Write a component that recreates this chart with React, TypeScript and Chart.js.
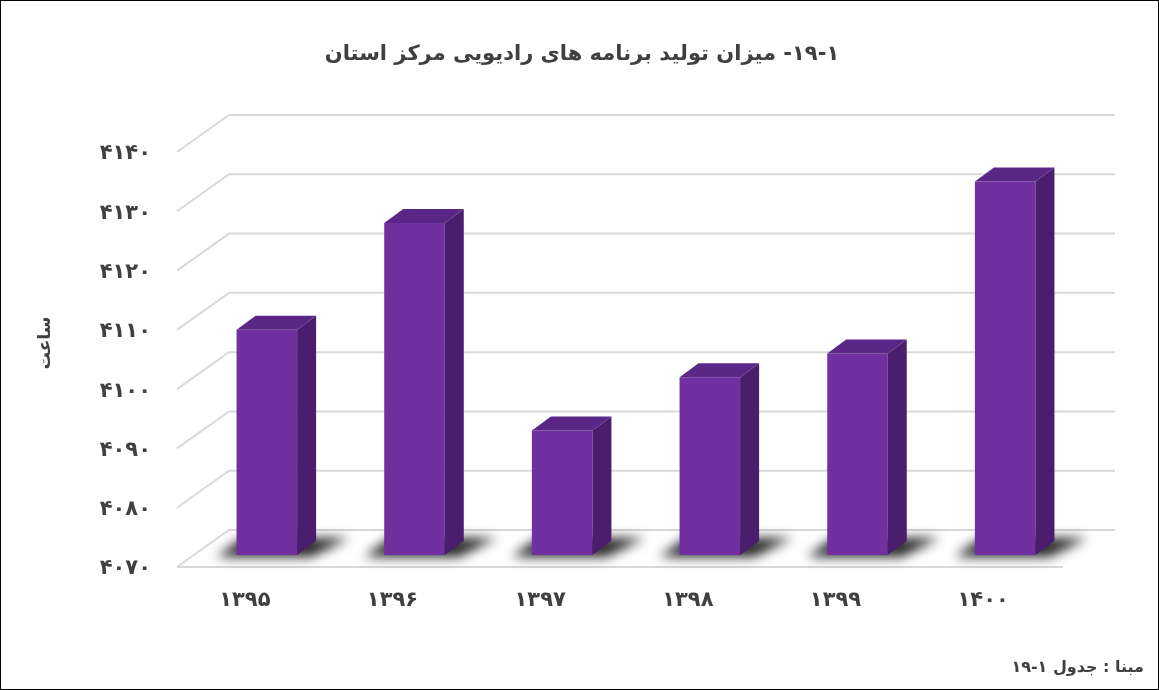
import React, { useEffect, useRef } from 'react';
import { Chart, registerables } from 'chart.js';
Chart.register(...registerables);

const categories = ['1395', '1396', '1397', '1398', '1399', '1400'];
const values = [4108, 4126, 4091, 4100, 4104, 4133];
const yMin = 4070;
const yMax = 4140;
const yStep = 10;
const titleText = '۱۹-۱- میزان تولید برنامه های رادیویی مرکز استان';
const yTitleText = 'ساعت';
const sourceText = 'مبنا : جدول ۱-۱۹';

const fa = (s: string | number) => String(s).replace(/[0-9]/g, (d) => '۰۱۲۳۴۵۶۷۸۹'[+d]);

const FONT = '"DejaVu Sans", sans-serif';
const TEXT = '#404040';
const FRONT = '#7030A0';
const SIDE = '#4B1E6D';
const TOP = '#5B2786';
const GRID = '#D9D9D9';

// 3D geometry
const BAR_DX = 19, BAR_DY = -14;
const WALL_BACK_DX = 36, WALL_BACK_DY = -25;
const WALL_FRONT_DX = -16, WALL_FRONT_DY = 12;

const threeD = {
  id: 'threeD',
  beforeDatasetsDraw(chart: any) {
    const ctx = chart.ctx;
    const { left, right } = chart.chartArea;
    const y = chart.scales.y;
    ctx.save();
    ctx.strokeStyle = GRID;
    ctx.lineWidth = 2;
    for (let v = yMin; v <= yMax; v += yStep) {
      const py = y.getPixelForValue(v);
      ctx.beginPath();
      ctx.moveTo(left + WALL_FRONT_DX, py + WALL_FRONT_DY);
      ctx.lineTo(left + WALL_BACK_DX, py + WALL_BACK_DY);
      ctx.lineTo(right + WALL_BACK_DX, py + WALL_BACK_DY);
      ctx.stroke();
    }
    const pb = y.getPixelForValue(yMin);
    ctx.beginPath();
    ctx.moveTo(left + WALL_FRONT_DX, pb + WALL_FRONT_DY);
    ctx.lineTo(right + WALL_FRONT_DX, pb + WALL_FRONT_DY);
    ctx.stroke();
    // floor shadows behind bars
    const meta = chart.getDatasetMeta(0);
    ctx.filter = 'blur(6px)';
    ctx.fillStyle = 'rgba(25,25,25,0.95)';
    meta.data.forEach((bar: any) => {
      const xl = bar.x - bar.width / 2;
      const xr = bar.x + bar.width / 2;
      const base = pb;
      ctx.beginPath();
      ctx.moveTo(xl - 20, base + 2);
      ctx.lineTo(xr + 14, base + 2);
      ctx.lineTo(xr + 52, base - 17);
      ctx.lineTo(xl + 6, base - 17);
      ctx.closePath();
      ctx.fill();
    });
    ctx.filter = 'none';
    ctx.restore();
  },
  afterDatasetsDraw(chart: any) {
    const ctx = chart.ctx;
    const meta = chart.getDatasetMeta(0);
    const base = chart.scales.y.getPixelForValue(yMin);
    ctx.save();
    meta.data.forEach((bar: any) => {
      const xl = bar.x - bar.width / 2;
      const xr = bar.x + bar.width / 2;
      const top = bar.y;
      ctx.fillStyle = TOP;
      ctx.beginPath();
      ctx.moveTo(xl, top);
      ctx.lineTo(xl + BAR_DX, top + BAR_DY);
      ctx.lineTo(xr + BAR_DX, top + BAR_DY);
      ctx.lineTo(xr, top);
      ctx.closePath();
      ctx.fill();
      ctx.fillStyle = SIDE;
      ctx.beginPath();
      ctx.moveTo(xr, top);
      ctx.lineTo(xr + BAR_DX, top + BAR_DY);
      ctx.lineTo(xr + BAR_DX, base + BAR_DY);
      ctx.lineTo(xr, base);
      ctx.closePath();
      ctx.fill();
    });
    ctx.restore();
  },
  afterDraw(chart: any) {
    const ctx = chart.ctx;
    ctx.save();
    ctx.fillStyle = TEXT;
    ctx.direction = 'rtl';
    ctx.textBaseline = 'middle';
    ctx.font = `bold 21px ${FONT}`;
    ctx.textAlign = 'center';
    ctx.fillText(titleText, 582, 55);
    ctx.font = `bold 16px ${FONT}`;
    ctx.textAlign = 'right';
    ctx.fillText(sourceText, 1144, 668);
    ctx.save();
    ctx.translate(46, 343);
    ctx.rotate(-Math.PI / 2);
    ctx.textAlign = 'center';
    ctx.font = `bold 17px ${FONT}`;
    ctx.fillText(yTitleText, 0, 0);
    ctx.restore();
    ctx.strokeStyle = '#000';
    ctx.lineWidth = 1;
    ctx.strokeRect(0.5, 0.5, chart.width - 1, chart.height - 1);
    ctx.restore();
  },
};

export default function App() {
  const ref = useRef<HTMLCanvasElement>(null);
  useEffect(() => {
    if (!ref.current) return;
    const chart = new Chart(ref.current, {
      type: 'bar',
      data: {
        labels: categories.map(fa),
        datasets: [
          {
            data: values,
            backgroundColor: FRONT,
            borderWidth: 0,
            barPercentage: 1,
            categoryPercentage: 0.41,
          },
        ],
      },
      options: {
        animation: false,
        responsive: false,
        layout: { padding: { top: 140, bottom: 75, left: 0, right: 80 } },
        plugins: { legend: { display: false }, tooltip: { enabled: false }, title: { display: false } },
        scales: {
          x: {
            grid: { display: false },
            border: { display: false },
            ticks: {
              color: TEXT,
              font: { family: FONT, size: 21, weight: 'bold' },
              padding: 25,
              labelOffset: -22,
              maxRotation: 0,
            },
            afterFit: (s: any) => { s.height = 60; },
          },
          y: {
            min: yMin,
            max: yMax,
            grid: { display: false },
            border: { display: false },
            ticks: {
              stepSize: yStep,
              color: TEXT,
              font: { family: FONT, size: 21, weight: 'bold' },
              padding: 34,
              labelOffset: 14,
              callback: (v: any) => fa(v),
            },
            afterFit: (s: any) => { s.width = 193; },
          },
        },
      },
      plugins: [threeD],
    });
    return () => chart.destroy();
  }, []);
  return (
    <div style={{ position: 'fixed', left: 0, top: 0, width: 1159, height: 690, background: '#fff' }}>
      <canvas ref={ref} width={1159} height={690} />
    </div>
  );
}
